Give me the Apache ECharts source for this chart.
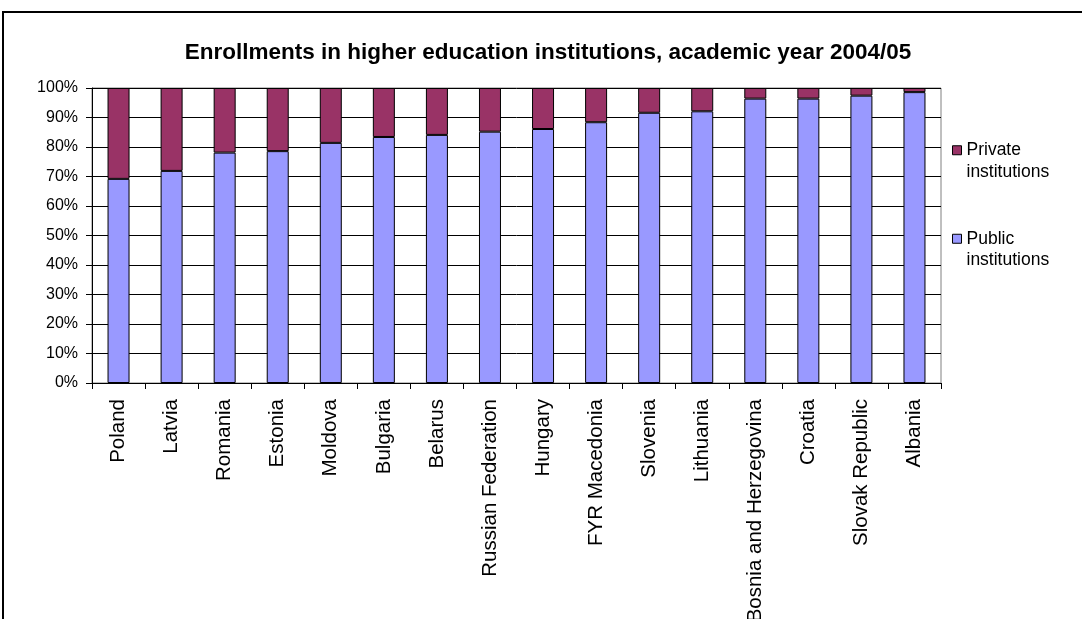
<!DOCTYPE html>
<html>
<head>
<meta charset="utf-8">
<script src="https://cdn.jsdelivr.net/npm/echarts@6/dist/echarts.min.js"></script>
<style>
  html, body { margin: 0; padding: 0; background: #fff; }
  #chart { width: 1082px; height: 619px; }
</style>
</head>
<body>
<div id="chart"></div>
<script>
// Countries, ordered by public share
const countries = ['Poland', 'Latvia', 'Romania', 'Estonia', 'Moldova', 'Bulgaria', 'Belarus',
  'Russian Federation', 'Hungary', 'FYR Macedonia', 'Slovenia', 'Lithuania',
  'Bosnia and Herzegovina', 'Croatia', 'Slovak Republic', 'Albania'];

// Share of enrollments in public institutions (%)
const publicShare = [69.2, 71.9, 78.1, 78.6, 81.4, 83.4, 84.1, 85.2, 86.1, 88.4, 91.6, 92.1, 96.4, 96.4, 97.4, 98.6];

// Share of enrollments in private institutions (%)
const privateShare = [30.8, 28.1, 21.9, 21.4, 18.6, 16.6, 15.9, 14.8, 13.9, 11.6, 8.4, 7.9, 3.6, 3.6, 2.6, 1.4];

const yTicks = [0, 10, 20, 30, 40, 50, 60, 70, 80, 90, 100];

const FONT = '"Liberation Sans", Arial, sans-serif';

const chart = echarts.init(document.getElementById('chart'), null, { renderer: 'canvas' });

chart.setOption({
  animation: false,
  backgroundColor: '#fff',
  textStyle: { fontFamily: FONT, color: '#000' },
  title: {
    text: 'Enrollments in higher education institutions, academic year 2004/05',
    left: 543,
    textAlign: 'center',
    top: 36,
    textStyle: { fontFamily: FONT, fontSize: 22.5, fontWeight: 'bold', color: '#000' }
  },
  graphic: [{
    type: 'rect',
    z: -1,
    shape: { x: 3, y: 12, width: 1200, height: 800 },
    style: { fill: 'none', stroke: '#000', lineWidth: 2 }
  }],
  legend: {
    orient: 'vertical',
    left: 947,
    top: 113,
    itemWidth: 9,
    itemHeight: 9,
    itemGap: 24,
    icon: 'rect',
    data: ['Private institutions', 'Public institutions'],
    // leading blank line keeps the swatch level with the first text line
    formatter: name => '\n' + name.replace(' ', '\n'),
    textStyle: {
      fontFamily: FONT,
      fontSize: 17.5,
      color: '#000',
      lineHeight: 21.5
    },
    itemStyle: { borderColor: '#000', borderWidth: 1 }
  },
  grid: {
    left: 92,
    top: 88,
    width: 849,
    height: 295,
    outerBoundsMode: 'none',
    containLabel: false,
    show: true,
    borderColor: '#808080',
    borderWidth: 1,
    backgroundColor: '#fff'
  },
  xAxis: {
    type: 'category',
    data: countries,
    axisLine: { lineStyle: { color: '#000', width: 1 } },
    axisTick: { show: true, interval: 0, length: 6, lineStyle: { color: '#000' } },
    axisLabel: {
      interval: 0,
      rotate: 90,
      margin: 16,
      fontFamily: FONT,
      fontSize: 20.5,
      color: '#000'
    }
  },
  yAxis: {
    type: 'value',
    min: yTicks[0],
    max: yTicks[yTicks.length - 1],
    interval: 10,
    axisLine: { show: true, lineStyle: { color: '#000', width: 1 } },
    axisTick: { show: true, length: 6, lineStyle: { color: '#000' } },
    axisLabel: {
      formatter: v => v + '%',
      margin: 14,
      fontFamily: FONT,
      fontSize: 16,
      color: '#000'
    },
    splitLine: { show: true, lineStyle: { color: '#000', width: 1 } }
  },
  series: [
    {
      name: 'Public institutions',
      type: 'bar',
      stack: 'share',
      barWidth: 22,
      data: publicShare,
      itemStyle: { color: '#9999FF', borderColor: '#000', borderWidth: 1 }
    },
    {
      name: 'Private institutions',
      type: 'bar',
      stack: 'share',
      barWidth: 22,
      data: privateShare,
      itemStyle: { color: '#993366', borderColor: '#000', borderWidth: 1 }
    }
  ]
});
</script>
</body>
</html>
